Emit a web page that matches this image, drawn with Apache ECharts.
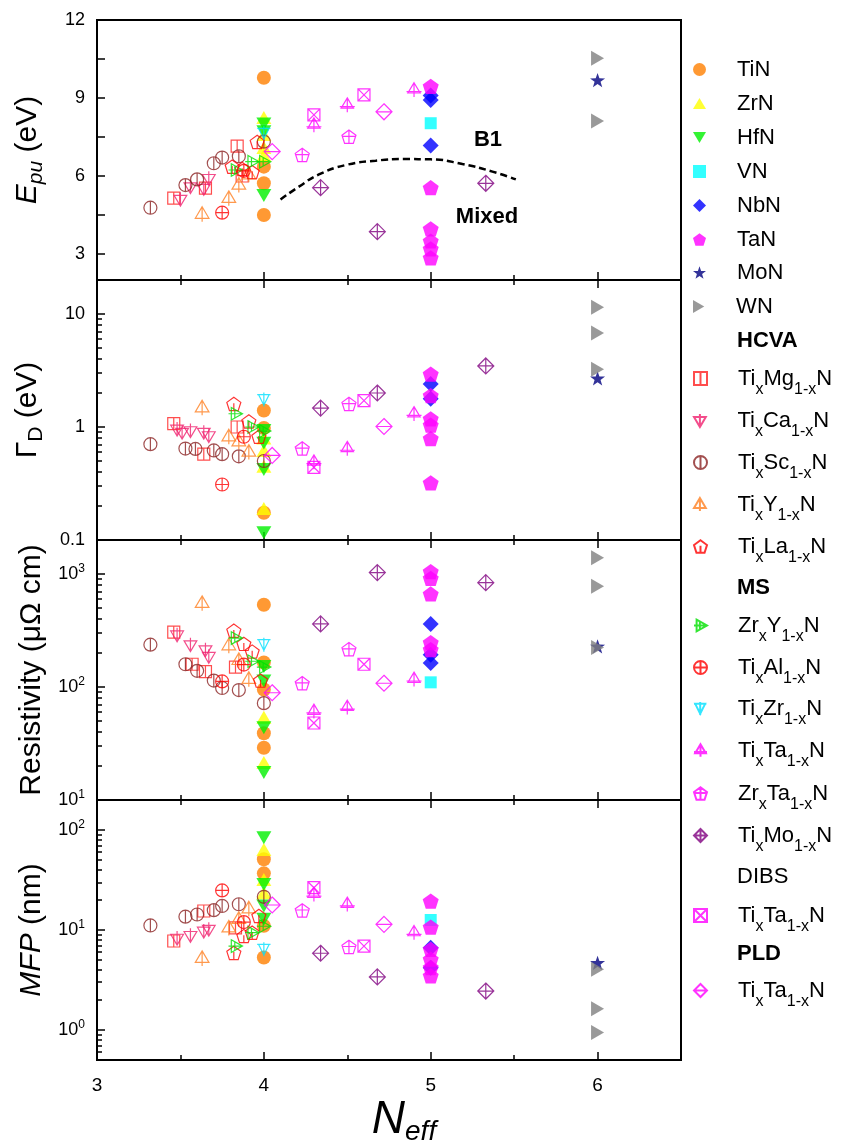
<!DOCTYPE html>
<html><head><meta charset="utf-8">
<script src="https://cdn.jsdelivr.net/npm/echarts@6/dist/echarts.min.js"></script>
<style>html,body{margin:0;padding:0;background:#fff}#c{width:851px;height:1148px}</style>
</head><body><div id="c"></div>
<script>
// ---------- DATA (N_eff, value) ----------
// Panel 1: E_pu (eV)
const TiN_E = [[4,9.78],[4,6.36],[4,5.72],[4,4.50]];
const ZrN_E = [[4,8.25],[4,7.6],[4,7.1],[4,6.8]];
const HfN_E = [[4,8.0],[4,7.7],[4,5.25]];
const VN_E  = [[5,8.03]];
const NbN_E = [[5,9.1],[5,8.92],[5,7.17]];
const TaN_E = [[5,9.45],[5,5.55],[5,3.97],[5,3.5],[5,3.2],[5,2.85]];
const MoN_E = [[6,9.69]];
const WN_E  = [[6,10.53],[6,8.12]];
const TiMg_E = [[3.46,5.15],[3.65,5.53],[3.84,7.15],[3.87,6.0]];
const TiCa_E = [[3.50,5.11],[3.56,5.59],[3.64,5.53],[3.67,5.91]];
const TiSc_E = [[3.32,4.78],[3.53,5.65],[3.60,5.87],[3.70,6.49],[3.75,6.71],[3.85,6.76],[4.0,7.32]];
const TiY_E  = [[3.63,4.53],[3.79,5.14],[3.85,5.65],[3.91,6.05]];
const TiLa_E = [[3.81,6.36],[3.87,6.27],[3.93,6.15],[3.96,7.31]];
const ZrY_E  = [[3.83,6.23],[3.93,6.55],[4.0,6.55]];
const TiAl_E = [[3.75,4.59],[3.88,6.2]];
const TiZr_E = [[4.0,7.64]];
const TiTaMS_E = [[4.30,7.96],[4.50,8.73],[4.90,9.31]];
const ZrTa_E = [[4.23,6.81],[4.51,7.51]];
const TiMo_E = [[4.34,5.55],[4.68,3.86],[5.33,5.72]];
const TiTaDIBS_E = [[4.30,8.35],[4.60,9.12]];
const TiTaPLD_E = [[4.05,6.94],[4.72,8.47]];
// B1 / Mixed boundary (dashed)
const boundary = [[4.10,5.10],[4.21,5.59],[4.33,6.06],[4.49,6.42],[4.67,6.59],[4.85,6.65],[5.00,6.64],[5.19,6.46],[5.37,6.17],[5.51,5.87]];

// Panel 2: Gamma_D (eV)
const TiN_G = [[4,1.40],[4,0.98],[4,0.174]];
const ZrN_G = [[4,0.80],[4,0.62],[4,0.45],[4,0.19]];
const HfN_G = [[4,0.93],[4,0.72],[4,0.42],[4,0.116]];
const VN_G  = [];
const NbN_G = [[5,2.4],[5,1.78]];
const TaN_G = [[5,2.94],[5,1.90],[5,1.18],[5,1.04],[5,0.79],[5,0.32]];
const MoN_G = [[6,2.7]];
const WN_G  = [[6,11.5],[6,6.8],[6,3.25]];
const TiMg_G = [[3.46,1.07],[3.64,0.575],[3.84,1.0]];
const TiCa_G = [[3.48,0.96],[3.51,0.90],[3.56,0.93],[3.64,0.90],[3.67,0.84]];
const TiSc_G = [[3.32,0.705],[3.53,0.645],[3.59,0.64],[3.70,0.62],[3.75,0.575],[3.85,0.55],[4.0,0.50]];
const TiY_G  = [[3.63,1.48],[3.79,0.82],[3.85,0.74],[3.91,0.60]];
const TiLa_G = [[3.82,1.60],[3.91,1.12],[3.97,0.82]];
const ZrY_G  = [[3.83,1.31],[3.93,1.0],[4.0,0.92]];
const TiAl_G = [[3.75,0.31],[3.88,0.82]];
const TiZr_G = [[4.0,1.75]];
const TiTaMS_G = [[4.30,0.49],[4.50,0.645],[4.90,1.31]];
const ZrTa_G = [[4.23,0.645],[4.51,1.60]];
const TiMo_G = [[4.34,1.47],[4.68,2.0],[5.33,3.47]];
const TiTaDIBS_G = [[4.30,0.44],[4.60,1.71]];
const TiTaPLD_G = [[4.05,0.56],[4.72,1.01]];

// Panel 3: Resistivity (uOhm cm)
const TiN_R = [[4,535],[4,165],[4,95],[4,39],[4,29]];
const ZrN_R = [[4,54],[4,21.5]];
const HfN_R = [[4,152],[4,113],[4,43.6],[4,17.5]];
const VN_R  = [[5,110]];
const NbN_R = [[5,362],[5,193],[5,163]];
const TaN_R = [[5,1050],[5,915],[5,666],[5,247],[5,214]];
const MoN_R = [[6,229]];
const WN_R  = [[6,1390],[6,780],[6,224]];
const TiMg_R = [[3.46,306],[3.57,159],[3.65,137],[3.83,150]];
const TiCa_R = [[3.48,290],[3.56,237],[3.65,214],[3.67,187]];
const TiSc_R = [[3.32,237],[3.53,159],[3.60,139],[3.70,114],[3.75,98],[3.85,94],[4.0,72]];
const TiY_R  = [[3.63,550],[3.79,232],[3.85,172],[3.91,117]];
const TiLa_R = [[3.82,315],[3.88,241],[3.93,206],[3.98,114]];
const ZrY_R  = [[3.83,271],[3.93,169],[4.0,150]];
const TiAl_R = [[3.75,112],[3.88,158]];
const TiZr_R = [[4.0,237]];
const TiTaMS_R = [[4.30,61],[4.50,66],[4.90,117]];
const ZrTa_R = [[4.23,108],[4.51,216]];
const TiMo_R = [[4.34,362],[4.68,1030],[5.33,839]];
const TiTaDIBS_R = [[4.30,48],[4.60,159]];
const TiTaPLD_R = [[4.05,89],[4.72,108]];

// Panel 4: MFP (nm)
const TiN_M = [[4,51],[4,36.9],[4,11],[4,5.3]];
const ZrN_M = [[4,64],[4,32],[4,23.6]];
const HfN_M = [[4,84],[4,28.6],[4,17.4],[4,12.8]];
const VN_M  = [[5,12.6]];
const NbN_M = [[5,6.66],[5,4.2]];
const TaN_M = [[5,19.5],[5,10.7],[5,6.4],[5,5.1],[5,4.2],[5,3.47]];
const MoN_M = [[6,4.7]];
const WN_M  = [[6,4.04],[6,1.63],[6,0.94]];
const TiMg_M = [[3.46,7.76],[3.64,15.5],[3.83,10.5]];
const TiCa_M = [[3.48,8.3],[3.56,8.85],[3.64,9.77],[3.67,10.2]];
const TiSc_M = [[3.32,11.1],[3.53,13.6],[3.60,14.3],[3.70,15.8],[3.75,17.4],[3.85,18.1],[4.0,21.5]];
const TiY_M  = [[3.63,5.2],[3.79,10.5],[3.85,12.8],[3.91,16.3]];
const TiLa_M = [[3.82,5.9],[3.88,8.7],[3.93,9.4],[3.97,13.8]];
const ZrY_M  = [[3.83,6.9],[3.93,9.4],[4.0,10.9]];
const TiAl_M = [[3.75,24.9],[3.88,12.0]];
const TiZr_M = [[4.0,6.4]];
const TiTaMS_M = [[4.30,22.7],[4.50,18.1],[4.90,9.4]];
const ZrTa_M = [[4.23,15.7],[4.51,6.77]];
const TiMo_M = [[4.34,5.85],[4.68,3.39],[5.33,2.45]];
const TiTaDIBS_M = [[4.30,26.5],[4.60,6.9]];
const TiTaPLD_M = [[4.05,17.8],[4.72,11.4]];

// axis tick values
const xTickLabels = [3,4,5,6];
const epuTicks = [3,4.5,6,7.5,9,10.5];
const epuLabels = [3,6,9,12];
const gammaMinor = [0.2,0.3,0.4,0.5,0.6,0.7,0.8,0.9,2,3,4,5,6,7,8,9];
const rhoMinor = [20,30,40,50,60,70,80,90,200,300,400,500,600,700,800,900];
const mfpMinor = [0.6,0.7,0.8,0.9,2,3,4,5,6,7,8,9,20,30,40,50,60,70,80,90];

// ---------- STYLE ----------
const FONT = "'Liberation Sans', Arial, sans-serif";
const CIRC = 'M0,10 A10,10 0 1 0 20,10 A10,10 0 1 0 0,10 Z ';
const PENT = 'M10,0 L19.5,6.9 L15.9,18.1 L4.1,18.1 L0.5,6.9 Z ';
const SQ = 'M0,0 L20,0 L20,20 L0,20 Z ';
const DIA = 'M10,0 L20,10 L10,20 L0,10 Z ';
const SYM = {
  circle: 'circle',
  up: 'path://M10,0 L20,17.3 L0,17.3 Z',
  down: 'path://M0,0 L20,0 L10,17.3 Z',
  square: 'path://' + SQ,
  diamond: 'path://' + DIA,
  pent: 'path://' + PENT,
  star: 'path://M10,0 L12.35,6.76 L19.51,6.91 L13.8,11.24 L15.88,18.09 L10,14 L4.12,18.09 L6.2,11.24 L0.49,6.91 L7.65,6.76 Z',
  right: 'path://M0,0 L17.3,10 L0,20 Z',
  sqV: 'path://' + SQ + 'M10,0 L10,20',
  downV: 'path://M0,5 L20,5 L10,22 Z M10,0 L10,22',
  circV: 'path://' + CIRC + 'M10,0 L10,20',
  upV: 'path://M10,0 L20,17 L0,17 Z M10,0 L10,22',
  pentV: 'path://' + PENT + 'M10,8 L10,18.1',
  rightX: 'path://M4,1 L20,10 L4,19 Z M0,10 L20,10 M9,3.8 L9,16.2',
  circP: 'path://' + CIRC + 'M10,0 L10,20 M0,10 L20,10',
  downH: 'path://M2,3 L18,3 L10,19 Z M0,3 L20,3 M10,0 L10,21',
  upH: 'path://M10,0 L19,15 L1,15 Z M-1,13 L21,13 M10,0 L10,21',
  pentP: 'path://' + PENT + 'M10,0 L10,18.1 M0.5,8.5 L19.5,8.5',
  diaP: 'path://' + DIA + 'M10,0 L10,20 M0,10 L20,10',
  sqX: 'path://' + SQ + 'M0,0 L20,20 M20,0 L0,20',
  diaH: 'path://' + DIA + 'M0,10 L20,10'
};
const sub = (a, s1, b, s2) => `{sp| }{n|${a}}{s|${s1}}{n|${b}}{s|${s2}}{n|N}`;
const MATERIALS = [
  {name:'TiN', label:'{sp| }{n|TiN}', sym:SYM.circle, size:14, color:'#FF7F00', filled:true, data:[TiN_E,TiN_G,TiN_R,TiN_M]},
  {name:'ZrN', label:'{sp| }{n|ZrN}', sym:SYM.up, size:15, color:'#FFFF00', filled:true, data:[ZrN_E,ZrN_G,ZrN_R,ZrN_M]},
  {name:'HfN', label:'{sp| }{n|HfN}', sym:SYM.down, size:15, color:'#00F000', filled:true, data:[HfN_E,HfN_G,HfN_R,HfN_M]},
  {name:'VN', label:'{sp| }{n|VN}', sym:SYM.square, size:12, color:'#00FFFF', filled:true, data:[VN_E,VN_G,VN_R,VN_M]},
  {name:'NbN', label:'{sp| }{n|NbN}', sym:SYM.diamond, size:16, color:'#0000FF', filled:true, data:[NbN_E,NbN_G,NbN_R,NbN_M]},
  {name:'TaN', label:'{sp| }{n|TaN}', sym:SYM.pent, size:16, color:'#FF00FF', filled:true, data:[TaN_E,TaN_G,TaN_R,TaN_M]},
  {name:'MoN', label:'{sp| }{n|MoN}', sym:SYM.star, size:15, color:'#000080', filled:true, data:[MoN_E,MoN_G,MoN_R,MoN_M]},
  {name:'WN', label:'{sp| }{n|WN}', sym:SYM.right, size:15, color:'#808080', filled:true, data:[WN_E,WN_G,WN_R,WN_M]},
  {name:'HCVA', label:'{sp| }{h|HCVA}', header:true},
  {name:'TixMg1-xN', label:sub('Ti','x','Mg','1-x'), sym:SYM.sqV, size:12, color:'#FF2020', data:[TiMg_E,TiMg_G,TiMg_R,TiMg_M]},
  {name:'TixCa1-xN', label:sub('Ti','x','Ca','1-x'), sym:SYM.downV, size:14, color:'#F0206E', data:[TiCa_E,TiCa_G,TiCa_R,TiCa_M]},
  {name:'TixSc1-xN', label:sub('Ti','x','Sc','1-x'), sym:SYM.circV, size:13, color:'#8B2323', data:[TiSc_E,TiSc_G,TiSc_R,TiSc_M]},
  {name:'TixY1-xN', label:sub('Ti','x','Y','1-x'), sym:SYM.upV, size:15, color:'#FF8020', data:[TiY_E,TiY_G,TiY_R,TiY_M]},
  {name:'TixLa1-xN', label:sub('Ti','x','La','1-x'), sym:SYM.pentV, size:14, color:'#FF0000', data:[TiLa_E,TiLa_G,TiLa_R,TiLa_M]},
  {name:'MS', label:'{sp| }{h|MS}', header:true},
  {name:'ZrxY1-xN', label:sub('Zr','x','Y','1-x'), sym:SYM.rightX, size:14, color:'#00E000', data:[ZrY_E,ZrY_G,ZrY_R,ZrY_M]},
  {name:'TixAl1-xN', label:sub('Ti','x','Al','1-x'), sym:SYM.circP, size:13, color:'#FF0000', data:[TiAl_E,TiAl_G,TiAl_R,TiAl_M]},
  {name:'TixZr1-xN', label:sub('Ti','x','Zr','1-x'), sym:SYM.downH, size:14, color:'#00E0FF', data:[TiZr_E,TiZr_G,TiZr_R,TiZr_M]},
  {name:'TixTa1-xN', label:sub('Ti','x','Ta','1-x'), sym:SYM.upH, size:15, color:'#FF00FF', data:[TiTaMS_E,TiTaMS_G,TiTaMS_R,TiTaMS_M]},
  {name:'ZrxTa1-xN', label:sub('Zr','x','Ta','1-x'), sym:SYM.pentP, size:14, color:'#FF00FF', data:[ZrTa_E,ZrTa_G,ZrTa_R,ZrTa_M]},
  {name:'TixMo1-xN', label:sub('Ti','x','Mo','1-x'), sym:SYM.diaP, size:16, color:'#800080', data:[TiMo_E,TiMo_G,TiMo_R,TiMo_M]},
  {name:'DIBS', label:'{sp| }{n|DIBS}', header:true},
  {name:'TixTa1-xN (DIBS)', label:sub('Ti','x','Ta','1-x'), sym:SYM.sqX, size:12, color:'#FF00FF', data:[TiTaDIBS_E,TiTaDIBS_G,TiTaDIBS_R,TiTaDIBS_M]},
  {name:'PLD', label:'{sp| }{h|PLD}', header:true},
  {name:'TixTa1-xN (PLD)', label:sub('Ti','x','Ta','1-x'), sym:SYM.diaH, size:16, color:'#FF00FF', data:[TiTaPLD_E,TiTaPLD_G,TiTaPLD_R,TiTaPLD_M]}
];
// legend row centres (px), one per entry above
const LEG_Y = [69,103,137,171,205,239,272,306,340,378,420,462,504,546,587,625,667,708,750,793,835,876,915,953,990];

// ---------- LAYOUT ----------
const GL = 97, GW = 584, GT = 20, GH = 260;
const grid = [0,1,2,3].map(i => ({left:GL, width:GW, top:GT + GH*i, height:GH, show:true,
  borderColor:'#000', borderWidth:2, backgroundColor:'transparent'}));

const tickStyle = {color:'#000', width:1.5};
const xAxis = [];
for (let i = 0; i < 4; i++) {
  ['bottom','top'].forEach(pos => {
    const showTicks = pos === 'bottom' || i > 0;
    xAxis.push({
      type:'value', gridIndex:i, position:pos, min:3, max:6.5, interval:1,
      axisLine:{show:true, onZero:false, lineStyle:{color:'#000', width:2}},
      axisTick:{show:showTicks, inside:true, length:8, lineStyle:tickStyle},
      minorTick:{show:showTicks, splitNumber:2, length:5, lineStyle:tickStyle},
      splitLine:{show:false}, minorSplitLine:{show:false},
      axisLabel:{show: i===3 && pos==='bottom', color:'#000', fontSize:19, fontFamily:FONT, margin:16,
        showMaxLabel:false, formatter: v => xTickLabels.includes(v) ? String(v) : ''},
      name: (i===3 && pos==='bottom') ? '{i|N}{e|eff}' : '',
      nameLocation:'middle', nameGap:34,
      nameTextStyle:{color:'#000', fontFamily:FONT, padding:[0,0,0,30], rich:{
        i:{fontSize:46, fontStyle:'italic', fontFamily:FONT, color:'#000'},
        e:{fontSize:28, fontStyle:'italic', fontFamily:FONT, padding:[24,0,0,0], color:'#000'}}}
    });
  });
}

const nameRich = {
  n:{fontSize:30, fontFamily:FONT, color:'#000'},
  i:{fontSize:30, fontStyle:'italic', fontFamily:FONT, color:'#000'},
  is:{fontSize:21, fontStyle:'italic', fontFamily:FONT, padding:[17,0,0,0], color:'#000'},
  s:{fontSize:21, fontFamily:FONT, padding:[17,0,0,0], color:'#000'}
};
const labelRich = {
  b:{fontSize:18, fontFamily:FONT, color:'#000'},
  p:{fontSize:12, fontFamily:FONT, color:'#000', padding:[0,0,10,0]}
};
const pow = v => `{b|10}{p|${Math.round(Math.log10(v))}}`;
const baseY = (i, extra) => Object.assign({
  gridIndex:i, position:'left',
  axisLine:{show:true, onZero:false, lineStyle:{color:'#000', width:2}},
  axisTick:{show:true, inside:true, length:8, lineStyle:tickStyle},
  splitLine:{show:false}, minorSplitLine:{show:false},
  axisLabel:{color:'#000', fontSize:18, fontFamily:FONT, margin:12, rich:labelRich},
  nameLocation:'middle', nameRotate:90, nameGap:50,
  nameTextStyle:{color:'#000', fontFamily:FONT, rich:nameRich}
}, extra);

const yAxis = [
  baseY(0, {type:'value', min:2, max:12, name:'{i|E}{is|pu}{n| (eV)}',
    axisTick:{show:true, inside:true, length:8, lineStyle:tickStyle, customValues:epuTicks},
    axisLabel:{color:'#000', fontSize:18, fontFamily:FONT, margin:12, customValues:epuLabels}}),
  baseY(1, {type:'log', logBase:10, min:0.1, max:20, name:'{n|Γ}{s|D}{n| (eV)}',
    axisLabel:{color:'#000', fontSize:18, fontFamily:FONT, margin:12, showMaxLabel:false, showMinLabel:true,
      formatter: v => String(Number(v.toPrecision(2)))}}),
  baseY(2, {type:'log', logBase:10, min:10, max:2000, name:'{n|Resistivity (μΩ cm)}',
    axisLabel:{color:'#000', fontSize:18, fontFamily:FONT, margin:12, showMaxLabel:false, showMinLabel:true,
      rich:labelRich, formatter: pow}}),
  baseY(3, {type:'log', logBase:10, min:0.5, max:200, name:'{i|MFP}{n| (nm)}',
    axisLabel:{color:'#000', fontSize:18, fontFamily:FONT, margin:12, showMaxLabel:false, showMinLabel:false,
      rich:labelRich, formatter: pow}})
];
// minor tick overlays for the log axes (log10 space)
[[1,0.1,20,gammaMinor],[2,10,2000,rhoMinor],[3,0.5,200,mfpMinor]].forEach(([g, lo, hi, vals]) => {
  yAxis.push({type:'value', gridIndex:g, position:'left', min:Math.log10(lo), max:Math.log10(hi),
    axisLine:{show:false}, axisLabel:{show:false}, splitLine:{show:false},
    axisTick:{show:true, inside:true, length:5, lineStyle:tickStyle, customValues: vals.map(v => Math.log10(v))}});
});

// ---------- SERIES ----------
const series = [];
MATERIALS.forEach(m => {
  if (m.header) {
    series.push({type:'scatter', name:m.name, xAxisIndex:0, yAxisIndex:0, data:[], symbol:'circle',
      itemStyle:{color:'rgba(0,0,0,0)', borderColor:'rgba(0,0,0,0)', borderWidth:0}});
    return;
  }
  for (let p = 0; p < 4; p++) {
    series.push({
      type:'scatter', name:m.name, xAxisIndex:2*p, yAxisIndex:p, data:m.data[p],
      symbol:m.sym, symbolSize:m.size, symbolKeepAspect:true,
      itemStyle: m.filled ? {color:m.color, borderWidth:0}
                          : {color:'rgba(0,0,0,0)', borderColor:m.color, borderWidth:1.2},
      emphasis:{disabled:true}
    });
  }
});
series.push({type:'line', name:'boundary', xAxisIndex:0, yAxisIndex:0, data:boundary, smooth:true,
  symbol:'none', lineStyle:{color:'#000', width:2.5, type:[7,4]}, emphasis:{disabled:true}, z:1});

const LABELS = {};
MATERIALS.forEach(m => LABELS[m.name] = m.label);

const legendText = {color:'#000', fontFamily:FONT, fontSize:22, rich:{
  sp:{width:26, fontSize:22, fontFamily:FONT},
  n:{fontSize:22, fontFamily:FONT, color:'#000'},
  h:{fontSize:22, fontFamily:FONT, fontWeight:'bold', color:'#000'},
  s:{fontSize:16, fontFamily:FONT, padding:[22,0,0,0], color:'#000'}
}};
const legend = MATERIALS.map((m, k) => ({
  orient:'vertical', left:693, top:LEG_Y[k] - 10.5, padding:0, itemWidth:13, itemHeight:13,
  symbolKeepAspect:true, selectedMode:false, data:[m.name],
  formatter: n => LABELS[n], textStyle:legendText
}));

const option = {
  animation:false,
  backgroundColor:'#fff',
  grid, xAxis, yAxis, series, legend,
  graphic:[
    {type:'text', x:488, y:140, style:{text:'B1', fontSize:22, fontWeight:'bold', fontFamily:FONT, fill:'#000', textAlign:'center', textVerticalAlign:'middle'}},
    {type:'text', x:487, y:217, style:{text:'Mixed', fontSize:22, fontWeight:'bold', fontFamily:FONT, fill:'#000', textAlign:'center', textVerticalAlign:'middle'}}
  ]
};
const chart = echarts.init(document.getElementById('c'), null, {renderer:'canvas'});
chart.setOption(option);
</script></body></html>
